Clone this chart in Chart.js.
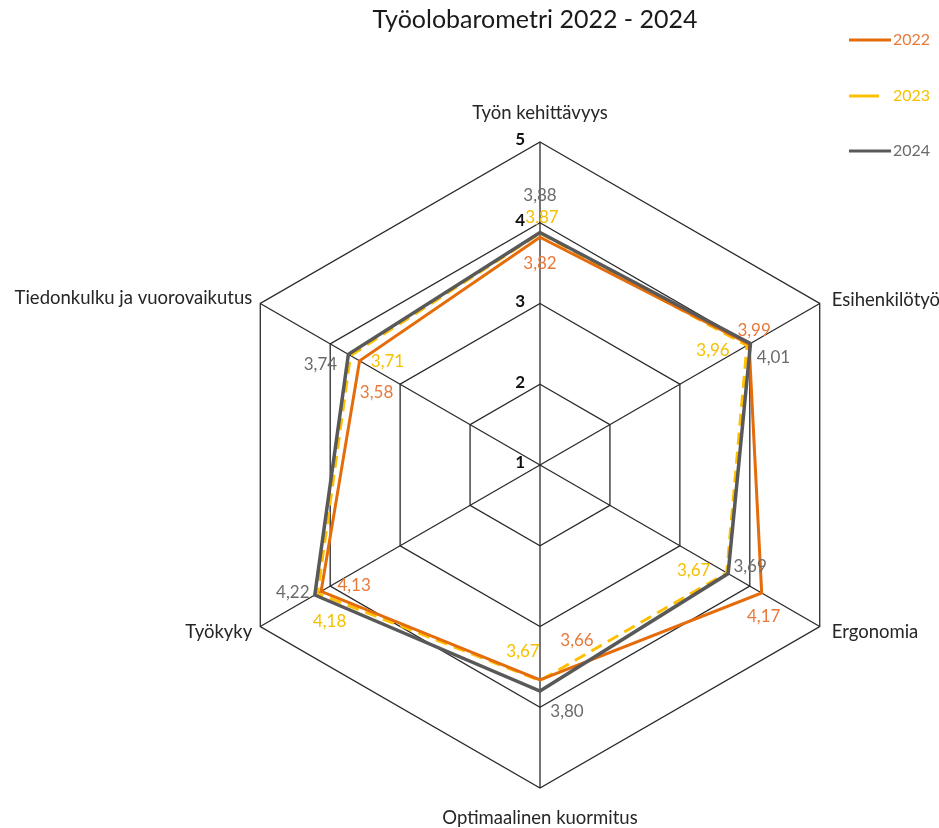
<!DOCTYPE html>
<html>
<head>
<meta charset="utf-8">
<title>Työolobarometri 2022 - 2024</title>
<script src="https://cdn.jsdelivr.net/npm/chart.js@4.4.1/dist/chart.umd.min.js"></script>
<style>
	html, body { margin: 0; padding: 0; background: #ffffff; }
	#wrap { width: 939px; height: 828px; }
</style>
</head>
<body>
<div id="wrap"><canvas id="radar" width="939" height="828"></canvas></div>
<script>
// Kategoriat (myötäpäivään ylhäältä)
const categories = ['Työn kehittävyys', 'Esihenkilötyö', 'Ergonomia', 'Optimaalinen kuormitus', 'Työkyky', 'Tiedonkulku ja vuorovaikutus'];
const years = ['2022', '2023', '2024'];
const values2022 = [3.82, 3.99, 4.17, 3.66, 4.13, 3.58];
const values2023 = [3.87, 3.96, 3.67, 3.67, 4.18, 3.71];
const values2024 = [3.88, 4.01, 3.69, 3.80, 4.22, 3.74];
const tickValues = [1, 2, 3, 4, 5];

const FONT = 'Lato, "Open Sans", sans-serif';
const colors = {
	y2022: '#e46c0a',
	y2023: '#ffc000',
	y2024: '#595959',
	label2022: '#e8793a',
	label2023: '#f5c000',
	label2024: '#6b6b6b',
	grid: '#2a2a2a',
	text: '#262626'
};

// arvolappujen siirrot pisteestä [dx, dy]
const labelOffsets = [
	[[0, 26], [5, -14], [2, 24], [37, -39], [33, -6], [17, 32]],
	[[2, -16], [-34, 5], [-33, -2], [-17, -29], [12, 28], [37, 6]],
	[[0, -37], [23, 14], [22, -7], [27, 20], [-22, -2], [-28, 10]]
];

const extrasPlugin = {
	id: 'extras',
	afterDraw(chart) {
		const ctx = chart.ctx;
		const scale = chart.scales.r;
		ctx.save();

		// arvolaput
		ctx.font = '17px ' + FONT;
		ctx.textAlign = 'center';
		ctx.textBaseline = 'middle';
		const labelColors = [colors.label2022, colors.label2023, colors.label2024];
		chart.data.datasets.forEach((ds, di) => {
			ds.data.forEach((v, i) => {
				const p = scale.getPointPositionForValue(i, v);
				const off = labelOffsets[di][i];
				ctx.fillStyle = labelColors[di];
				ctx.fillText(v.toFixed(2).replace('.', ','), p.x + off[0], p.y + off[1]);
			});
		});

		// asteikon luvut
		ctx.font = 'bold 17px ' + FONT;
		ctx.fillStyle = '#111111';
		ctx.textAlign = 'right';
		tickValues.forEach(t => {
			const d = scale.getDistanceFromCenterForValue(t);
			ctx.fillText(String(t), scale.xCenter - 15, scale.yCenter - d - 2);
		});

		// kategorioiden nimet
		ctx.font = '18.5px ' + FONT;
		ctx.fillStyle = colors.text;
		const outer = scale.drawingArea;
		categories.forEach((c, i) => {
			const p = scale.getPointPosition(i, outer);
			let x = p.x, y = p.y;
			if (i === 0) { ctx.textAlign = 'center'; y -= 29; }
			else if (i === 3) { ctx.textAlign = 'center'; y += 30; }
			else if (i === 1 || i === 2) { ctx.textAlign = 'left'; x += 12; y += (i === 1 ? -3 : 6); }
			else { ctx.textAlign = 'right'; x -= 8; y += (i === 5 ? -5 : 6); }
			ctx.fillText(c, x, y);
		});

		// otsikko
		ctx.font = '25px ' + FONT;
		ctx.fillStyle = '#1a1a1a';
		ctx.textAlign = 'center';
		ctx.fillText('Työolobarometri 2022 - 2024', 535, 20);

		// selite
		const legendY = [40, 96, 151];
		const lineColors = [colors.y2022, colors.y2023, colors.y2024];
		ctx.font = '16px ' + FONT;
		ctx.textAlign = 'left';
		years.forEach((yr, i) => {
			ctx.strokeStyle = lineColors[i];
			ctx.lineWidth = 3;
			ctx.beginPath();
			ctx.moveTo(849, legendY[i]);
			ctx.lineTo(i === 1 ? 879 : 891, legendY[i]);
			ctx.stroke();
			ctx.fillStyle = labelColors[i];
			ctx.fillText(yr, 893, legendY[i]);
		});
		ctx.restore();
	}
};

new Chart(document.getElementById('radar'), {
	type: 'radar',
	data: {
		labels: categories,
		datasets: [
			{
				label: years[0],
				data: values2022,
				borderColor: colors.y2022,
				borderWidth: 3,
				fill: false,
				pointRadius: 0,
				order: 2
			},
			{
				label: years[1],
				data: values2023,
				borderColor: colors.y2023,
				borderWidth: 3,
				borderDash: [12, 7],
				fill: false,
				pointRadius: 0,
				order: 3
			},
			{
				label: years[2],
				data: values2024,
				borderColor: colors.y2024,
				borderWidth: 3.5,
				fill: false,
				pointRadius: 0,
				order: 1
			}
		]
	},
	options: {
		responsive: false,
		animation: false,
		layout: {
			padding: { left: 217, right: 76, top: 142, bottom: 40 }
		},
		plugins: {
			legend: { display: false },
			title: { display: false },
			tooltip: { enabled: false }
		},
		elements: {
			line: { tension: 0 }
		},
		scales: {
			r: {
				min: 1,
				max: 5,
				ticks: { display: false, stepSize: 1 },
				grid: { color: colors.grid, lineWidth: 1.3 },
				angleLines: { color: colors.grid, lineWidth: 1.3 },
				pointLabels: { display: false }
			}
		}
	},
	plugins: [extrasPlugin]
});
</script>
</body>
</html>
